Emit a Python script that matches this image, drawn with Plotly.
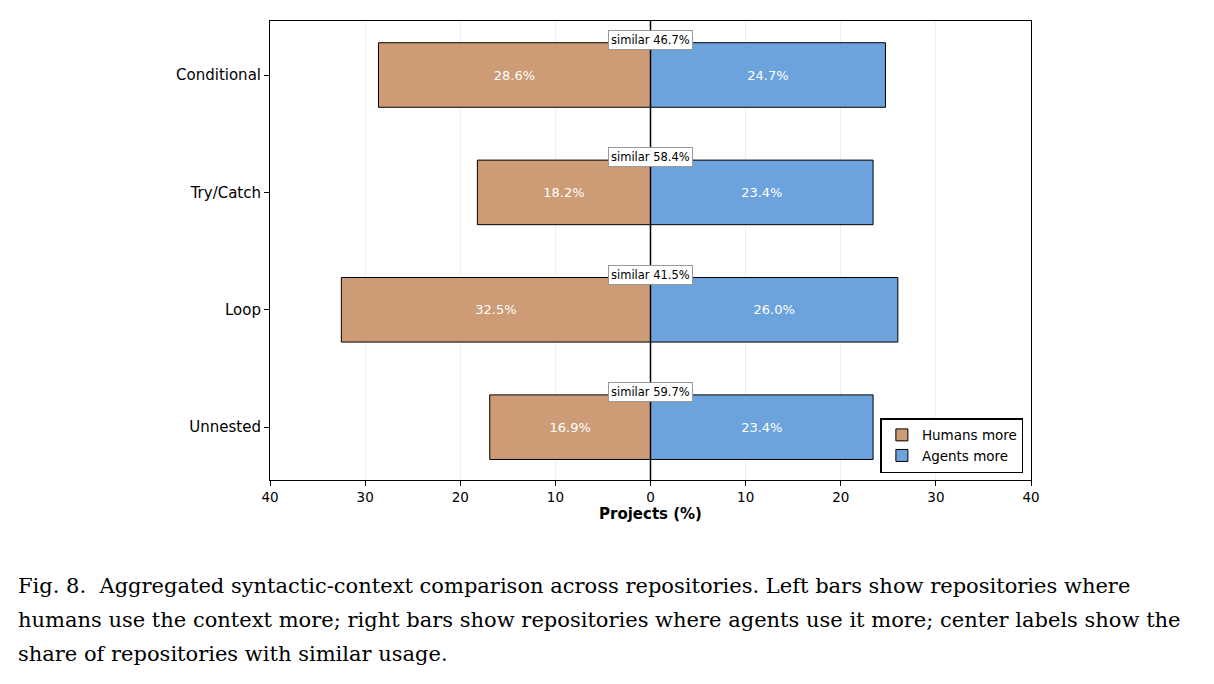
import plotly.graph_objects as go

categories = ["Unnested", "Loop", "Try/Catch", "Conditional"]
humans_more = [16.9, 32.5, 18.2, 28.6]
agents_more = [23.4, 26.0, 23.4, 24.7]
similar = [59.7, 41.5, 58.4, 46.7]
tick_vals = [-40, -30, -20, -10, 0, 10, 20, 30, 40]
tick_text = ["40", "30", "20", "10", "0", "10", "20", "30", "40"]
caption_lines = [
    "Fig. 8.  Aggregated syntactic-context comparison across repositories. Left bars show repositories where",
    "humans use the context more; right bars show repositories where agents use it more; center labels show the",
    "share of repositories with similar usage.",
]

tan = "#CD9B75"
blue = "#6CA3DC"

fig = go.Figure()
fig.add_trace(go.Bar(
    y=categories, x=[-v for v in humans_more], orientation="h", name="Humans more",
    marker=dict(color=tan, line=dict(color="black", width=1)), width=0.55,
    text=[f"{v:.1f}%" for v in humans_more], textposition="inside", insidetextanchor="middle",
    textfont=dict(color="white", size=13, family="DejaVu Sans"), hoverinfo="skip",
))
fig.add_trace(go.Bar(
    y=categories, x=agents_more, orientation="h", name="Agents more",
    marker=dict(color=blue, line=dict(color="black", width=1)), width=0.55,
    text=[f"{v:.1f}%" for v in agents_more], textposition="inside", insidetextanchor="middle",
    textfont=dict(color="white", size=13, family="DejaVu Sans"), hoverinfo="skip",
))

for i, (c, s) in enumerate(zip(categories, similar)):
    fig.add_annotation(x=0, y=i + 0.30, xref="x", yref="y", text=f"similar {s:.1f}%",
                       showarrow=False, font=dict(size=11.5, family="DejaVu Sans", color="black"),
                       bgcolor="white", bordercolor="#999999", borderwidth=1, borderpad=2)

fig.add_shape(type="line", x0=0, x1=0, y0=0, y1=1, xref="x", yref="paper",
              line=dict(color="black", width=1.5), layer="above")

W, H = 1214, 684
ml, mr, mt, mb = 270, W - 1031, 21, H - 480
pw, ph = W - ml - mr, H - mt - mb

for j, line in enumerate(caption_lines):
    px, py = 16, 586 + j * 34
    fig.add_annotation(x=(px - ml) / pw, y=(H - mb - py) / ph, xref="paper", yref="paper",
                       text=line, showarrow=False, xanchor="left", yanchor="middle",
                       font=dict(size=21, family="DejaVu Serif", color="black"))

fig.update_layout(
    width=W, height=H, margin=dict(l=ml, r=mr, t=mt, b=mb),
    barmode="relative", bargap=0.45,
    plot_bgcolor="white", paper_bgcolor="white",
    font=dict(family="DejaVu Sans", size=13, color="black"),
    xaxis=dict(range=[-40, 40], tickvals=tick_vals, ticktext=tick_text,
               showgrid=True, gridcolor="#f0f0f0", gridwidth=1, zeroline=False,
               showline=True, linecolor="black", linewidth=1, mirror=True,
               ticks="outside", ticklen=5, tickcolor="black", tickfont=dict(size=13.5),
               title=dict(text="<b>Projects (%)</b>", font=dict(size=15), standoff=4)),
    yaxis=dict(range=[-0.45, 3.46], showgrid=False, zeroline=False,
               showline=True, linecolor="black", linewidth=1, mirror=True,
               ticks="outside", ticklen=5, tickcolor="black", tickfont=dict(size=15)),
    legend=dict(x=0.99, y=0.015, xanchor="right", yanchor="bottom",
                bgcolor="white", bordercolor="black", borderwidth=1.5,
                font=dict(size=13.5), traceorder="normal", itemwidth=30,
                tracegroupgap=0),
    showlegend=True,
)

fig.write_html("out.html")
